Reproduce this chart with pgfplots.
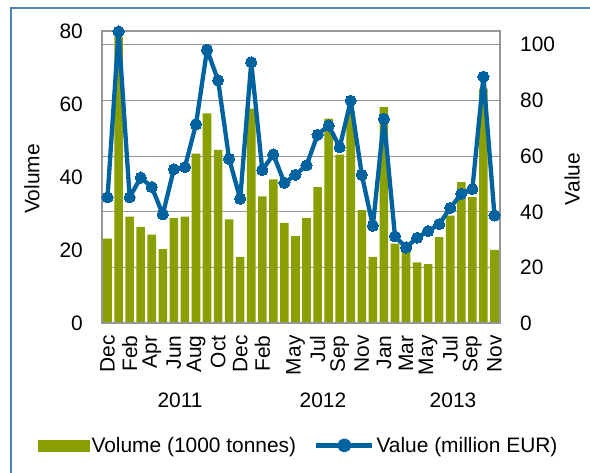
\documentclass[border=0pt]{standalone}
\usepackage{pgfplots}
\pgfplotsset{compat=1.18}
\usepackage{pgfplotstable}
\usepackage{fontspec}
\setmainfont{Liberation Sans}
\definecolor{barcol}{RGB}{138,160,0}
\definecolor{linecol}{RGB}{0,99,160}
\definecolor{framecol}{RGB}{79,129,189}
\definecolor{gridcol}{RGB}{150,150,150}

\pgfplotstableread{
x vol val
0 23.2 45.2
1 78.5 104.7
2 29.2 45.2
3 26.4 52.3
4 24.3 48.9
5 20.3 39.1
6 28.8 55.3
7 29.2 56.1
8 46.5 71.4
9 57.5 98.2
10 47.5 87.2
11 28.5 59.0
12 18.2 44.7
13 58.8 93.7
14 34.8 55.0
15 39.4 60.6
16 27.5 50.4
17 23.9 53.3
18 28.8 56.7
19 37.3 67.7
20 56.1 71.0
21 46.2 63.2
22 58.0 79.9
23 31.0 53.3
24 18.2 35.0
25 59.2 73.4
26 21.8 31.2
27 21.0 27.2
28 16.7 30.7
29 16.2 33.1
30 23.6 35.6
31 29.5 41.4
32 38.7 46.5
33 34.6 48.2
34 64.3 88.5
35 20.1 38.7
}\data

\begin{document}
\begin{tikzpicture}[font=\fontsize{21}{25}\selectfont]
\useasboundingbox (0,0) rectangle (590bp,473bp);
\fill[white] (0,0) rectangle (590bp,473bp);
\draw[framecol, line width=2bp] (11bp,0) -- (11bp,465bp) -- (590bp,465bp);
\pgfplotsset{
  every axis/.append style={
    scale only axis, width=398bp, height=292bp,
    at={(102bp,149.7bp)}, anchor=south west,
    xmin=-0.5, xmax=35.5,
    /pgf/number format/assume math mode=true,
    major tick length=0pt, tick style={draw=none},
    font=\fontsize{21}{25}\selectfont,
  }
}
% grid + right axis
\begin{axis}[
  ymin=0, ymax=104.8,
  ytick={0,20,40,60,80,100},
  yticklabel pos=right,
  yticklabel shift=20bp,
  yticklabel style={inner sep=0pt, anchor=west},
  xtick=\empty,
  ymajorgrids, grid style={gridcol, line width=1.2bp},
  axis line style={draw=none},
  ylabel={Value}, ylabel style={at={(axis description cs:1.181,0.494)}, anchor=center, rotate=0},
]
\addplot[draw=none] coordinates {(0,0)};
\end{axis}
% bars + left axis
\begin{axis}[
  ymin=0, ymax=80,
  ytick={0,20,40,60,80},
  yticklabel shift=19bp,
  yticklabel style={inner sep=0pt},
  xtick={0,2,4,6,8,10,12,14,17,19,21,23,25,27,29,31,33,35},
  xticklabels={Dec,Feb,Apr,Jun,Aug,Oct,Dec,Feb,May,Jul,Sep,Nov,Jan,Mar,May,Jul,Sep,Nov},
  xticklabel shift=12bp,
  xticklabel style={rotate=90, anchor=east, inner sep=0pt},
  axis line style={draw=none},
  ylabel={Volume}, ylabel style={at={(axis description cs:-0.176,0.494)}, anchor=center},
]
\addplot[ybar, bar width=8.6bp, fill=barcol, draw=none] table[x=x, y=vol] {\data};
\end{axis}
% line + frame + legend
\begin{axis}[
  ymin=0, ymax=104.8,
  xtick=\empty, ytick=\empty,
  clip=false,
  axis line style={gridcol, line width=1.6bp},
  legend style={draw=none, fill=none, at={(axis description cs:-0.161,-0.418)}, anchor=west,
    inner sep=0pt, font=\fontsize{21}{25}\selectfont,
    nodes={inner sep=2bp},
    /tikz/every even column/.append style={column sep=16bp}},
  legend columns=2,
  legend cell align=left,
]
\addlegendimage{legend image code/.code={\fill[barcol] (0bp,-5.5bp) rectangle (51bp,5.5bp);}}
\addlegendentry{Volume (1000 tonnes)}
\addplot[linecol, line width=4.3bp, line join=round, mark=*, mark size=5.6bp, mark options={fill=linecol, draw=linecol, line width=0pt},
  legend image code/.code={\draw[linecol, line width=4.3bp] (0bp,0bp) -- (56bp,0bp); \fill[linecol] (28bp,0bp) circle (4.8bp);}]
  table[x=x, y=val] {\data};
\addlegendentry{Value (million EUR)}
\node at (axis cs:6.56,0) [yshift=-77bp] {2011};
\node at (axis cs:19.49,0) [yshift=-77bp] {2012};
\node at (axis cs:31.25,0) [yshift=-77bp] {2013};
\end{axis}
\end{tikzpicture}
\end{document}
